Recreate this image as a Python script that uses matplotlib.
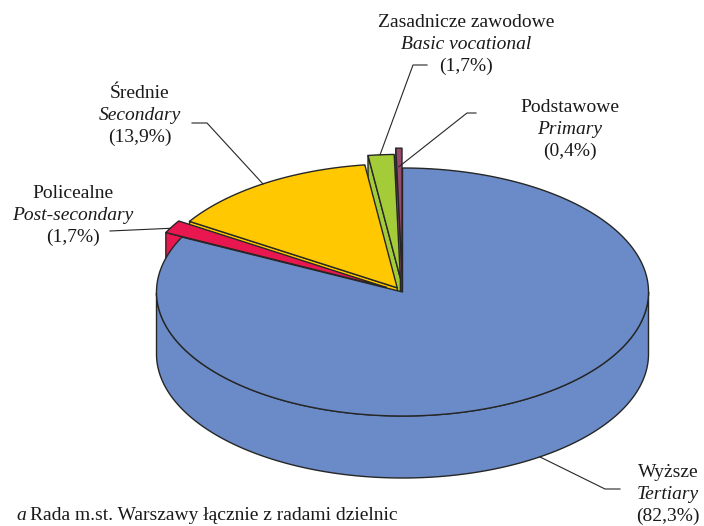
"""
3D pie: education of the Warsaw city council members (shares in %).
"""
import numpy as np
import matplotlib

matplotlib.use("Agg")
import matplotlib.pyplot as plt
from matplotlib.patches import Polygon

# data
names_pl = ["Wyższe", "Policealne", "Średnie", "Zasadnicze zawodowe", "Podstawowe"]
names_en = ["Tertiary", "Post-secondary", "Secondary", "Basic vocational", "Primary"]
shares = [82.3, 1.7, 13.9, 1.7, 0.4]

# styling / layout
colors = ["#6A8BC7", "#E8174F", "#FFC800", "#A4CC39", "#964B6E"]
explode = [0.0, 0.075, 0.04, 0.11, 0.16]
CX, CY = 402.5, 292.0      # pie centre (pixels)
RX, RY = 246.0, 124.0      # top ellipse radii
DEPTH = 62.0               # pie thickness
EDGE = "#262626"
FONT = "Liberation Serif"

# label centre x, first baseline y, anchor (fraction in slice, depth 0..1), leader path
label_x = [668, 73, 140, 466, 570]
label_y = [477, 198, 98, 27, 112]
anchor = [(0.507, 1.0), (0.64, 0.0), (0.51, 0.0), (0.54, 0.0), (0.5, 0.3)]
stubs = [[(620, 489), (605, 489)], [(110, 231)], [(192, 123), (207, 123)],
         [(427, 65), (413, 65)], [(476, 113), (467, 113)]]


def proj(x, y, down=0.0):
    return CX + RX * x, CY - RY * y + DEPTH * down


fig = plt.figure(figsize=(7.04, 5.26), dpi=100)
ax = fig.add_axes([0, 0, 1, 1])
ax.set_xlim(0, 704)
ax.set_ylim(526, 0)
ax.axis("off")

# slice angles: start at 12 o'clock, clockwise
cum = np.concatenate([[0], np.cumsum(shares)]) / 100.0 * 360.0
hi = 90.0 - cum[:-1]
lo = 90.0 - cum[1:]
mid = (hi + lo) / 2
off = [(e * np.cos(np.radians(m)), e * np.sin(np.radians(m))) for e, m in zip(explode, mid)]


def poly(pts, fc, z):
    ax.add_patch(Polygon(pts, closed=True, facecolor=fc, edgecolor=EDGE,
                         linewidth=1.0, joinstyle="round", zorder=z))


# side walls, far slices first
order = sorted(range(len(shares)), key=lambda i: -(off[i][1] + np.sin(np.radians(mid[i]))))
for k, i in enumerate(order):
    ox, oy = off[i]
    for ang, visible in ((lo[i], np.cos(np.radians(lo[i])) > 1e-6),
                         (hi[i], np.cos(np.radians(hi[i])) < -1e-6)):
        if not visible:
            continue
        r = np.radians(ang)
        rx, ry = ox + np.cos(r), oy + np.sin(r)
        poly([proj(ox, oy), proj(rx, ry), proj(rx, ry, 1), proj(ox, oy, 1)], colors[i], 2 + k)
    t = np.radians(np.linspace(lo[i], hi[i], 600))
    front = np.sin(t) < 0
    if front.any():
        idx = np.flatnonzero(front)
        runs = np.split(idx, np.flatnonzero(np.diff(idx) > 1) + 1)
        for run in runs:
            tt = t[run]
            top = [proj(ox + np.cos(a), oy + np.sin(a)) for a in tt]
            bot = [proj(ox + np.cos(a), oy + np.sin(a), 1) for a in tt[::-1]]
            poly(top + bot, colors[i], 2.5 + k)

# top faces
for i in range(len(shares)):
    ox, oy = off[i]
    t = np.radians(np.linspace(lo[i], hi[i], 400))
    pts = [proj(ox, oy)] + [proj(ox + np.cos(a), oy + np.sin(a)) for a in t]
    poly(pts, colors[i], 20)

# labels and leader lines
for i in range(len(shares)):
    pct = f"({shares[i]:.1f}%)".replace(".", ",")
    for j, (txt, style) in enumerate(((names_pl[i], "normal"), (names_en[i], "italic"), (pct, "normal"))):
        ax.text(label_x[i], label_y[i] + j * 22, txt, ha="center", va="baseline",
                fontsize=14, fontstyle=style, family=FONT, color="#1a1a1a", zorder=30)
    f, d = anchor[i]
    a = np.radians(lo[i] + f * (hi[i] - lo[i]))
    ox, oy = off[i]
    end = proj(ox + np.cos(a), oy + np.sin(a), d)
    path = stubs[i] + [end]
    ax.plot([p[0] for p in path], [p[1] for p in path], color=EDGE, lw=0.8, zorder=31)

# footnote at the bottom edge
ax.text(16, 520, "a", fontsize=14, fontstyle="italic", family=FONT, color="#1a1a1a", va="baseline")
ax.text(30, 520, "Rada m.st. Warszawy łącznie z radami dzielnic", fontsize=14,
        family=FONT, color="#1a1a1a", va="baseline")

fig.savefig("out.png", dpi=100)
